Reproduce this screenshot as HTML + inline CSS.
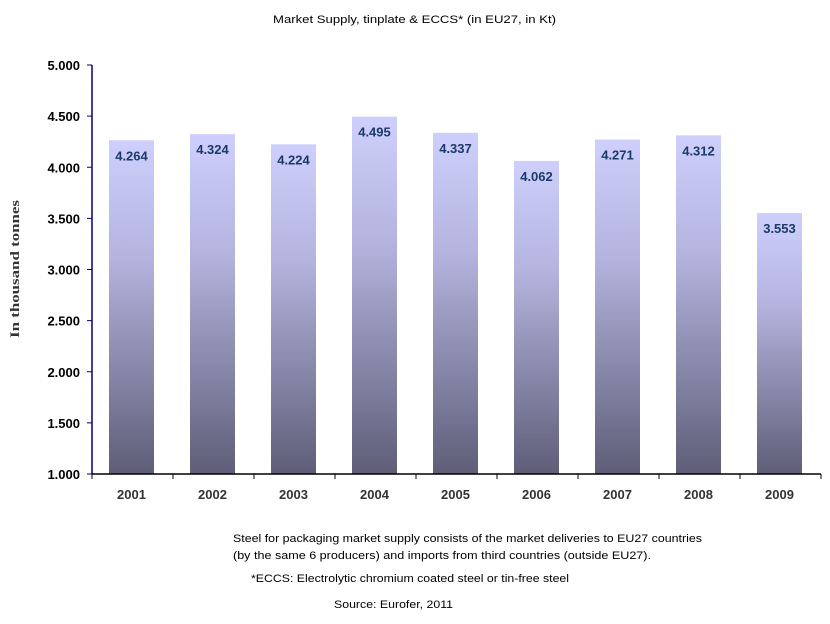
<!DOCTYPE html>
<html><head><meta charset="utf-8"><style>
body{margin:0;background:#fff;width:830px;height:619px;overflow:hidden;font-family:"Liberation Sans",Arial,sans-serif}
</style></head><body>
<svg width="830" height="619" xmlns="http://www.w3.org/2000/svg" font-family="Liberation Sans, Arial, sans-serif">
<defs><linearGradient id="g" x1="0" y1="0" x2="0" y2="1">
<stop offset="0" stop-color="#cfcffd"/><stop offset="0.35" stop-color="#b4b4df"/><stop offset="1" stop-color="#5e5e78"/></linearGradient></defs>
<text x="273" y="23" font-size="11" textLength="283" lengthAdjust="spacingAndGlyphs" fill="#000">Market Supply, tinplate &amp; ECCS*  (in EU27, in Kt)</text>
<g id="bars"></g>
<line x1="92" y1="65" x2="92" y2="474" stroke="#000080" stroke-width="1.5"/>
<line x1="92" y1="474" x2="821" y2="474" stroke="#000" stroke-width="1.5"/>
<g id="ax"></g>
<text transform="translate(19,269) rotate(-90)" font-family="Liberation Serif, serif" font-weight="bold" font-size="13" text-anchor="middle" textLength="138" lengthAdjust="spacingAndGlyphs" fill="#333">In thousand tonnes</text>
<g font-size="11" fill="#000" lengthAdjust="spacingAndGlyphs">
<text x="233" y="542" textLength="469" lengthAdjust="spacingAndGlyphs">Steel for packaging  market supply  consists  of the market deliveries to EU27 countries</text>
<text x="233" y="559" textLength="418" lengthAdjust="spacingAndGlyphs">(by the same 6 producers) and imports from third countries (outside EU27).</text>
<text x="251" y="582" textLength="318" lengthAdjust="spacingAndGlyphs">*ECCS: Electrolytic chromium coated steel or tin-free steel</text>
<text x="334" y="608" textLength="119" lengthAdjust="spacingAndGlyphs">Source: Eurofer, 2011</text>
</g>
</svg>
<script>
const v=[4264,4324,4224,4495,4337,4062,4271,4312,3553],ns="http://www.w3.org/2000/svg";
const b=document.getElementById('bars'),a=document.getElementById('ax');
function el(p,t,o,tx){const e=document.createElementNS(ns,t);for(const k in o)e.setAttribute(k,o[k]);if(tx)e.textContent=tx;p.appendChild(e);}
const y=d=>474-(d-1000)*0.10225;
v.forEach((d,i)=>{const cx=131.5+i*81,t=y(d);
el(b,'rect',{x:cx-22.5,y:t,width:45,height:474-t,fill:'url(#g)'});
el(b,'text',{x:cx,y:t+20,'font-size':'13','font-weight':'bold','text-anchor':'middle',fill:'#1a3a6a'},(d/1000).toFixed(3));
el(a,'text',{x:cx,y:499,'font-size':'13','font-weight':'bold','text-anchor':'middle',fill:'#333'},String(2001+i));});
for(let i=0;i<=9;i++)el(a,'line',{x1:92+i*81,y1:474,x2:92+i*81,y2:479,stroke:'#000'});
for(let k=1000;k<=5000;k+=500){const yy=y(k);el(a,'line',{x1:87,y1:yy,x2:92,y2:yy,stroke:'#000080'});
el(a,'text',{x:80,y:yy+5,'font-size':'13','font-weight':'bold','text-anchor':'end',fill:'#000'},(k/1000).toFixed(3));}
</script>
</body></html>
